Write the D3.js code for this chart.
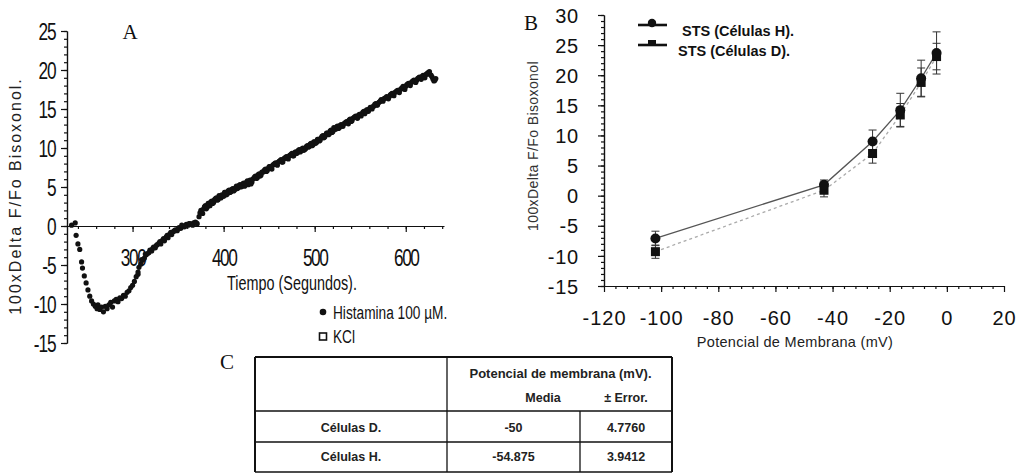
<!DOCTYPE html>
<html>
<head>
<meta charset="utf-8">
<script src="https://cdn.jsdelivr.net/npm/d3@7"></script>
<style>
  body { margin: 0; background: #fff; }
  svg { display: block; }
  .axis path, .axis line { stroke: #111; stroke-width: 1.2; }
</style>
</head>
<body>
<div id="chart"></div>
<script>
const SANS = "'Liberation Sans', Arial, sans-serif";
const SERIF = "'Liberation Serif', 'Times New Roman', serif";
// the original uses a narrow face; Liberation Sans squeezed horizontally stands in for it
const SQUEEZE = 0.72;

// panel A: membrane potential trace (seconds, 100xDelta F/Fo)
const timeA = [
  233, 237, 238, 240, 242, 244, 245, 247, 249, 251, 253, 255, 257, 259, 261, 262, 264, 266, 268, 270,
  272, 274, 276, 278, 280, 282, 284, 286, 288, 290, 292, 294, 296, 298, 300, 302, 304, 306, 307, 309,
  311, 313, 315, 317, 319, 321, 323, 325, 327, 329, 331, 333, 335, 337, 339, 341, 343, 345, 347, 349,
  351, 353, 355, 357, 359, 361, 363, 365, 367, 369, 371, 373, 375, 377, 379, 381, 383, 385, 387, 389,
  391, 393, 395, 397, 399, 401, 403, 405, 407, 409, 411, 413, 415, 417, 419, 421, 423, 425, 427, 429,
  431, 433, 435, 437, 439, 441, 443, 445, 447, 449, 451, 453, 455, 457, 459, 461, 463, 465, 467, 469,
  471, 473, 475, 477, 479, 481, 483, 485, 487, 489, 491, 493, 495, 497, 499, 501, 503, 505, 507, 509,
  511, 513, 515, 517, 519, 521, 523, 525, 527, 529, 531, 533, 535, 537, 539, 541, 543, 545, 547, 549,
  551, 553, 555, 557, 559, 561, 563, 565, 567, 569, 571, 573, 575, 577, 579, 581, 583, 585, 587, 589,
  591, 593, 595, 597, 599, 601, 603, 605, 607, 609, 611, 613, 615, 617, 619, 621, 623, 625, 627, 629,
  631, 633
];
const valueA = [
  0.1, 0.4, -1.2, -2.3, -3.0, -4.6, -5.4, -6.4, -7.3, -8.2, -9.0, -9.6, -10.0, -10.3, -10.6, -10.1, -10.7, -10.4, -11.0, -10.3,
  -10.6, -10.1, -9.8, -10.4, -9.6, -9.4, -9.7, -9.2, -9.3, -8.9, -9.0, -8.5, -8.3, -7.9, -7.6, -7.1, -6.5, -5.9, -5.3, -4.9,
  -4.4, -4.1, -3.7, -3.5, -3.1, -3.2, -2.7, -2.8, -2.4, -2.2, -2.3, -1.8, -1.9, -1.4, -1.5, -1.0, -1.1, -0.7, -0.5, -0.6,
  -0.2, -0.3, 0.0, -0.1, 0.2, 0.1, 0.3, 0.2, 0.4, 0.5, 0.3, 1.2, 2.0, 1.6, 2.5, 2.2, 2.9, 2.6, 3.2, 3.0,
  3.5, 3.3, 3.9, 3.6, 3.9, 4.3, 4.0, 4.5, 4.3, 4.7, 4.5, 4.9, 4.8, 5.2, 5.0, 5.4, 5.1, 5.6, 5.3, 5.9,
  5.6, 6.1, 6.4, 6.2, 6.7, 6.5, 6.9, 7.2, 7.0, 7.4, 7.6, 7.3, 7.9, 8.1, 7.8, 8.3, 8.5, 8.2, 8.7, 8.9,
  8.6, 9.1, 9.3, 9.0, 9.5, 9.4, 9.8, 9.6, 10.0, 9.8, 10.2, 10.1, 10.5, 10.3, 10.8, 10.6, 11.1, 10.9, 11.3, 11.6,
  11.4, 11.9, 11.7, 12.2, 12.0, 12.6, 12.4, 12.8, 12.6, 13.0, 12.8, 13.2, 13.4, 13.1, 13.7, 13.5, 13.9, 14.1, 13.8, 14.3,
  14.1, 14.6, 14.4, 14.9, 14.7, 15.2, 15.0, 15.4, 15.7, 15.5, 15.9, 16.2, 16.0, 16.4, 16.6, 16.3, 16.8, 17.0, 16.7, 17.2,
  17.4, 17.1, 17.6, 17.9, 17.5, 18.1, 18.3, 18.0, 18.5, 18.7, 18.4, 18.9, 19.1, 18.8, 19.3, 19.0, 19.5, 19.7, 19.4, 19.1,
  18.6, 18.9
];
// readings in between the ones above (the trace is a dense band of dots)
const extraA = [
  [306, -6.2], [310, -4.3], [314, -3.6], [318, -3.4], [322, -2.9], [326, -2.5], [330, -2.0], [334, -1.6],
  [338, -1.2], [342, -0.8], [346, -0.6], [350, -0.4], [354, 0.1], [358, 0.0], [362, 0.3], [366, 0.1], [370, 0.4],
  [374, 1.7], [376, 1.9], [378, 2.2], [380, 2.6], [382, 2.4], [384, 2.9], [386, 3.1], [388, 2.9], [390, 3.4],
  [392, 3.6], [394, 3.4], [396, 3.8], [398, 4.0], [400, 3.8], [402, 4.3], [404, 4.1], [406, 4.6], [408, 4.4],
  [410, 4.8], [412, 4.6], [414, 5.1], [416, 4.9], [418, 5.3], [420, 5.1], [422, 5.5], [424, 5.3], [426, 5.8],
  [428, 5.5], [430, 5.4], [432, 6.0], [434, 6.3], [436, 6.1], [438, 6.6], [440, 6.4], [442, 6.9], [444, 7.0],
  [446, 7.3], [448, 7.1], [450, 7.6], [452, 7.4], [454, 7.8], [456, 8.0], [458, 7.9], [460, 8.2], [462, 8.4],
  [464, 8.2], [466, 8.6], [468, 8.8], [470, 8.7], [472, 9.0], [474, 9.2], [476, 9.0], [478, 9.4], [480, 9.3],
  [482, 9.7], [484, 9.5], [486, 9.9], [488, 9.7], [490, 9.9], [492, 10.3], [494, 10.2], [496, 10.6], [498, 10.4],
  [500, 10.8], [502, 10.7], [504, 11.1], [506, 11.0], [508, 11.5], [510, 11.3], [512, 11.7], [514, 11.9],
  [516, 11.8], [518, 12.3], [520, 12.1], [522, 12.5], [524, 12.7], [526, 12.5], [528, 12.9], [530, 12.8],
  [532, 13.1], [534, 13.3], [536, 13.2], [538, 13.6], [540, 13.4], [542, 13.8], [544, 14.0], [546, 13.9],
  [548, 14.2], [550, 14.3], [552, 14.4], [554, 14.7], [556, 14.6], [558, 14.9], [560, 15.0], [562, 15.1],
  [564, 15.3], [566, 15.6], [568, 15.5], [570, 15.8], [572, 16.0], [574, 16.1], [576, 16.3], [578, 16.4],
  [580, 16.5], [582, 16.6], [584, 16.9], [586, 16.8], [588, 17.1], [590, 17.3], [592, 17.2], [594, 17.5],
  [596, 17.7], [598, 17.8], [600, 17.9], [602, 18.2], [604, 18.1], [606, 18.4], [608, 18.6], [610, 18.5],
  [612, 18.7], [614, 19.0], [616, 18.9], [618, 19.2], [620, 19.1], [622, 19.4], [624, 19.6], [626, 19.8],
  [628, 19.3], [630, 18.8], [632, 18.7]
];
const ticksAY = [-15, -10, -5, 0, 5, 10, 15, 20, 25];
const ticksAX = [300, 400, 500, 600];
const legendA = ["Histamina 100 \u00b5M.", "KCl"];

// panel B: STS response vs membrane potential
const potentialB = [-102, -43, -26, -16.3, -9, -3.6];
const stsH = [-7.1, 1.8, 9.0, 14.2, 19.5, 23.7];
const errH = [1.2, 0.8, 1.9, 2.8, 3.0, 3.5];
const stsD = [-9.3, 0.9, 7.0, 13.4, 18.8, 23.1];
const errD = [1.1, 1.1, 1.6, 1.9, 2.4, 2.2];
const ticksBY = [-15, -10, -5, 0, 5, 10, 15, 20, 25, 30];
const ticksBX = [-120, -100, -80, -60, -40, -20, 0, 20];
const legendB = ["STS (C\u00e9lulas H).", "STS (C\u00e9lulas D)."];

// panel C: table
const tableRows = ["C\u00e9lulas D.", "C\u00e9lulas H."];
const tableMedia = ["-50", "-54.875"];
const tableError = ["4.7760", "3.9412"];

const plain = (d) => String(d); // keep ascii hyphen like the original

const svg = d3.select("#chart").append("svg")
  .attr("width", 1018).attr("height", 473)
  .style("background", "#fff");

function squeezed(g, x, y, size, str, anchor = "start") {
  return g.append("text")
    .attr("transform", `translate(${x},${y}) scale(${SQUEEZE},1)`)
    .attr("text-anchor", anchor)
    .style("font-family", SANS).style("font-size", size + "px")
    .attr("fill", "#111")
    .text(str);
}

// ---------- panel A ----------
const xA = d3.scaleLinear().domain([228, 642]).range([67, 444]);
const yA = d3.scaleLinear().domain([-15, 25]).range([343, 31]);
const gA = svg.append("g");

gA.append("g").attr("class", "axis")
  .attr("transform", `translate(${xA(228)},0)`)
  .call(d3.axisLeft(yA).tickValues(d3.range(-15, 26, 1)).tickSize(3).tickSizeOuter(0).tickFormat(""));
gA.append("g").attr("class", "axis")
  .attr("transform", `translate(${xA(228)},0)`)
  .call(d3.axisLeft(yA).tickValues(ticksAY).tickSize(6).tickSizeOuter(0).tickFormat(plain))
  .call((g) => g.selectAll("text")
    .attr("x", -16).attr("dy", "0.36em")
    .attr("transform", `scale(${SQUEEZE},1)`)
    .style("font-family", SANS).style("font-size", "24px")
    .style("letter-spacing", "-1.5px").attr("fill", "#111"));

gA.append("g").attr("class", "axis")
  .attr("transform", `translate(0,${yA(0)})`)
  .call(d3.axisBottom(xA).tickValues(d3.range(240, 642, 20)).tickSize(3).tickSizeOuter(0).tickFormat(""));
gA.append("g").attr("class", "axis")
  .attr("transform", `translate(0,${yA(0)})`)
  .call(d3.axisBottom(xA).tickValues(ticksAX).tickSize(6).tickSizeOuter(0).tickFormat(plain))
  .call((g) => g.select(".domain").remove())
  .call((g) => g.selectAll("text")
    .attr("y", 23).attr("dy", "0.71em")
    .attr("transform", `scale(${SQUEEZE},1)`)
    .style("font-family", SANS).style("font-size", "24px")
    .style("letter-spacing", "-2px").attr("fill", "#111"));

const dotsA = timeA.map((t, i) => [t, valueA[i]]).concat(extraA);
gA.append("g").selectAll("circle")
  .data(dotsA)
  .join("circle")
  .attr("cx", (d) => xA(d[0]))
  .attr("cy", (d) => yA(d[1]))
  .attr("r", 2.6)
  .attr("fill", "#111");

gA.append("text")
  .attr("transform", "translate(21,196) rotate(-90)")
  .attr("text-anchor", "middle")
  .style("font-family", SANS).style("font-size", "16px").style("letter-spacing", "2px")
  .attr("fill", "#222")
  .text("100xDelta F/Fo Bisoxonol.");

squeezed(gA, 292, 290, 20, "Tiempo (Segundos).", "middle");

gA.append("text")
  .attr("x", 130).attr("y", 39).attr("text-anchor", "middle")
  .style("font-family", SERIF).style("font-size", "21px").attr("fill", "#111")
  .text("A");

gA.append("circle").attr("cx", 323).attr("cy", 312).attr("r", 3.3).attr("fill", "#111");
gA.append("rect").attr("x", 319.5).attr("y", 333).attr("width", 7).attr("height", 7)
  .attr("fill", "none").attr("stroke", "#111").attr("stroke-width", 1.6);
legendA.forEach((d, i) => squeezed(gA, 333, 319 + i * 24, 19, d));

// ---------- panel B ----------
const xB = d3.scaleLinear().domain([-120, 20]).range([604, 1004]);
const yB = d3.scaleLinear().domain([-15, 30]).range([286, 15]);
const gB = svg.append("g");

gB.append("g").attr("class", "axis")
  .attr("transform", `translate(${xB(-120)},0)`)
  .call(d3.axisLeft(yB).tickValues(d3.range(-15, 31, 1)).tickSize(3).tickSizeOuter(0).tickFormat(""));
gB.append("g").attr("class", "axis")
  .attr("transform", `translate(${xB(-120)},0)`)
  .call(d3.axisLeft(yB).tickValues(ticksBY).tickSize(6).tickSizeOuter(0).tickFormat(plain))
  .call((g) => g.selectAll("text")
    .attr("x", -25).attr("dy", "0.36em")
    .style("font-family", SANS).style("font-size", "20px")
    .style("letter-spacing", "0.8px").attr("fill", "#111"));

gB.append("g").attr("class", "axis")
  .attr("transform", `translate(0,${yB(-15)})`)
  .call(d3.axisBottom(xB).tickValues(d3.range(-116, 20, 4)).tickSize(3).tickSizeOuter(0).tickFormat(""));
gB.append("g").attr("class", "axis")
  .attr("transform", `translate(0,${yB(-15)})`)
  .call(d3.axisBottom(xB).tickValues(ticksBX).tickSize(6).tickSizeOuter(0).tickFormat(plain))
  .call((g) => g.select(".domain").remove())
  .call((g) => g.selectAll("text")
    .attr("y", 25).attr("dy", "0.71em")
    .style("font-family", SANS).style("font-size", "20px")
    .style("letter-spacing", "1px").attr("fill", "#111"));

const lineB = (vals) => d3.line()
  .x((d) => xB(d))
  .y((d, i) => yB(vals[i]))(potentialB);

gB.append("path").attr("d", lineB(stsD))
  .attr("fill", "none").attr("stroke", "#aaa").attr("stroke-width", 1.3)
  .attr("stroke-dasharray", "3,3");
gB.append("path").attr("d", lineB(stsH))
  .attr("fill", "none").attr("stroke", "#555").attr("stroke-width", 1.3);

function errorBars(vals, errs) {
  const g = gB.append("g").attr("stroke", "#333").attr("stroke-width", 1);
  potentialB.forEach((p, i) => {
    const x = xB(p);
    const top = yB(vals[i] + errs[i]);
    const bot = yB(vals[i] - errs[i]);
    g.append("line").attr("x1", x).attr("x2", x).attr("y1", top).attr("y2", bot);
    g.append("line").attr("x1", x - 4).attr("x2", x + 4).attr("y1", top).attr("y2", top);
    g.append("line").attr("x1", x - 4).attr("x2", x + 4).attr("y1", bot).attr("y2", bot);
  });
}
errorBars(stsD, errD);
errorBars(stsH, errH);

gB.append("g").selectAll("rect")
  .data(potentialB)
  .join("rect")
  .attr("x", (d) => xB(d) - 4.5)
  .attr("y", (d, i) => yB(stsD[i]) - 4.5)
  .attr("width", 9).attr("height", 9)
  .attr("fill", "#111");
gB.append("g").selectAll("circle")
  .data(potentialB)
  .join("circle")
  .attr("cx", (d) => xB(d))
  .attr("cy", (d, i) => yB(stsH[i]))
  .attr("r", 5)
  .attr("fill", "#111");

gB.append("text")
  .attr("transform", "translate(538,146) rotate(-90)")
  .attr("text-anchor", "middle")
  .style("font-family", SANS).style("font-size", "14px").style("letter-spacing", "0.4px")
  .attr("fill", "#333")
  .text("100xDelta F/Fo Bisoxonol");

gB.append("text")
  .attr("x", 795).attr("y", 347).attr("text-anchor", "middle")
  .style("font-family", SANS).style("font-size", "14.5px").style("letter-spacing", "0.3px")
  .attr("fill", "#222")
  .text("Potencial de Membrana (mV)");

gB.append("text")
  .attr("x", 531).attr("y", 30).attr("text-anchor", "middle")
  .style("font-family", SERIF).style("font-size", "21px").attr("fill", "#111")
  .text("B");

// legend B
gB.append("line").attr("x1", 638).attr("x2", 667).attr("y1", 25).attr("y2", 25)
  .attr("stroke", "#111").attr("stroke-width", 2.6);
gB.append("circle").attr("cx", 652).attr("cy", 23).attr("r", 4.2).attr("fill", "#111");
gB.append("line").attr("x1", 638).attr("x2", 667).attr("y1", 45).attr("y2", 45)
  .attr("stroke", "#111").attr("stroke-width", 2.6);
gB.append("rect").attr("x", 648).attr("y", 40).attr("width", 8).attr("height", 6).attr("fill", "#111");
gB.selectAll(".legB")
  .data(legendB)
  .join("text")
  .attr("class", "legB")
  .attr("x", (d, i) => (i === 0 ? 682 : 678))
  .attr("y", (d, i) => 36 + i * 20)
  .style("font-family", SANS).style("font-size", "14.5px").style("font-weight", "bold")
  .attr("fill", "#111")
  .text((d) => d);

// ---------- panel C: table ----------
const gC = svg.append("g");
const tL = 255, tM = 447, tD = 580, tR = 672;
const tTop = 357, tHead = 411, tRow = 442, tBot = 472;

gC.append("text")
  .attr("x", 227).attr("y", 369).attr("text-anchor", "middle")
  .style("font-family", SERIF).style("font-size", "21px").attr("fill", "#111")
  .text("C");

const hLines = [[tTop, 2.2], [tHead, 1.5], [tRow, 1.3], [tBot, 1.5]];
gC.selectAll(".hl").data(hLines).join("line")
  .attr("x1", tL).attr("x2", tR)
  .attr("y1", (d) => d[0]).attr("y2", (d) => d[0])
  .attr("stroke", "#111").attr("stroke-width", (d) => d[1]);
const vLines = [[tL, tTop, 2], [tM, tTop, 1.3], [tD, tHead, 1.3], [tR, tTop, 2]];
gC.selectAll(".vl").data(vLines).join("line")
  .attr("x1", (d) => d[0]).attr("x2", (d) => d[0])
  .attr("y1", (d) => d[1]).attr("y2", tBot)
  .attr("stroke", "#111").attr("stroke-width", (d) => d[2]);

const cellText = (x, y, s, size) => gC.append("text")
  .attr("x", x).attr("y", y).attr("text-anchor", "middle")
  .style("font-family", SANS).style("font-size", size + "px").style("font-weight", "bold")
  .attr("fill", "#222")
  .text(s);

cellText((tM + tR) / 2 + 1, 378, "Potencial de membrana (mV).", 13);
cellText(543, 402, "Media", 12.5);
cellText(626, 402, "\u00b1 Error.", 12.5);
tableRows.forEach((r, i) => {
  const y = 432 + i * 29;
  cellText((tL + tM) / 2, y, r, 12.5);
  cellText((tM + tD) / 2, y, tableMedia[i], 12.5);
  cellText((tD + tR) / 2, y, tableError[i], 12.5);
});
</script>
</body>
</html>
